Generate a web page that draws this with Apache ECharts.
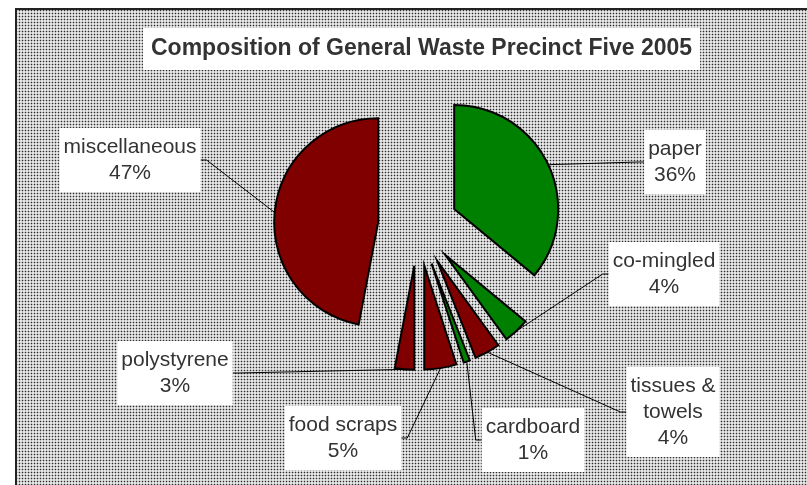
<!DOCTYPE html>
<html>
<head>
<meta charset="utf-8">
<script src="https://cdn.jsdelivr.net/npm/echarts@6/dist/echarts.min.js"></script>
<style>
  html, body { margin: 0; padding: 0; background: #ffffff; }
  #chart { width: 807px; height: 485px; }
</style>
</head>
<body>
<div id="chart"></div>
<script>
// ---- data ----
const categories = ['paper', 'co-mingled', 'tissues & towels', 'cardboard', 'food scraps', 'polystyrene', 'miscellaneous'];
const shares = [36, 4, 4, 1, 5, 3, 47];
const titleText = 'Composition of General Waste Precinct Five 2005';

// ---- styling / layout ----
const sliceColors = ['#008000', '#008000', '#800000', '#008000', '#800000', '#800000', '#800000'];
// centre of each label box, in the same order as the categories
const labelSpots = [[675, 162], [664, 274], [673, 412], [533, 440], [343, 438], [175, 373], [130, 160]];
const pieCenter = [418, 226];
const pieRadius = 104;
const explodeDistance = 40;
const fontFamily = '"Liberation Sans", Arial, sans-serif';

// dotted texture used as the plot background
function makeDotPattern() {
  const c = document.createElement('canvas');
  c.width = 3; c.height = 3;
  const g = c.getContext('2d');
  const px = (x, y, col) => { g.fillStyle = col; g.fillRect(x, y, 1, 1); };
  for (let x = 0; x < 3; x++) for (let y = 0; y < 3; y++) px(x, y, '#e6e6e6');
  px(1, 0, '#b8b8b8'); px(0, 1, '#b8b8b8'); px(2, 1, '#b8b8b8'); px(1, 2, '#b8b8b8');
  px(1, 1, '#2e2e2e');
  return c;
}

const total = shares.reduce((a, b) => a + b, 0);
let running = 0;
const midAngles = shares.map(v => {
  const m = (running + v / 2) / total * Math.PI * 2;
  running += v;
  return m;
});

function labelText(p) {
  return p.name.replace(' & ', ' &\n') + '\n' + Math.round(p.percent) + '%';
}

function placeLabel(params) {
  const spot = labelSpots[params.dataIndex];
  const pts = params.labelLinePoints;
  if (!spot || !pts) return {};
  const start = pts[0];
  const half = params.labelRect.width / 2;
  const side = start[0] > spot[0] ? 1 : -1;
  const edgeX = spot[0] + side * half;
  return {
    x: spot[0],
    y: spot[1],
    align: 'center',
    verticalAlign: 'middle',
    labelLinePoints: [start, [edgeX + side * 6, spot[1]], [edgeX, spot[1]]]
  };
}

// one pie per slice, each shifted out along its own bisector
const series = categories.map((cat, i) => ({
  type: 'pie',
  silent: true,
  animation: false,
  startAngle: 90,
  clockwise: true,
  avoidLabelOverlap: false,
  radius: [0, pieRadius],
  center: [
    pieCenter[0] + explodeDistance * Math.sin(midAngles[i]),
    pieCenter[1] - explodeDistance * Math.cos(midAngles[i])
  ],
  label: {
    position: 'outside',
    formatter: labelText,
    fontFamily: fontFamily,
    fontSize: 21,
    lineHeight: 26,
    color: '#333333',
    backgroundColor: '#ffffff',
    padding: [6, 4],
    align: 'center'
  },
  labelLine: { length: 10, length2: 10, lineStyle: { color: '#000000', width: 1 } },
  labelLayout: placeLabel,
  emphasis: { disabled: true },
  data: categories.map((name, j) => ({
    name: name,
    value: shares[j],
    itemStyle: j === i
      ? { color: sliceColors[j], borderColor: '#000000', borderWidth: 2, borderJoin: 'miter' }
      : { color: 'rgba(0,0,0,0)', borderWidth: 0 },
    label: { show: j === i },
    labelLine: { show: j === i }
  }))
}));

const chart = echarts.init(document.getElementById('chart'), null, { renderer: 'canvas' });
chart.setOption({
  backgroundColor: '#ffffff',
  animation: false,
  title: {
    text: titleText,
    left: 143,
    top: 28,
    backgroundColor: '#ffffff',
    padding: [8, 8],
    textStyle: { fontFamily: fontFamily, fontSize: 23, fontWeight: 'bold', color: '#333333', lineHeight: 26 }
  },
  graphic: [{
    type: 'rect',
    silent: true,
    z: -10,
    shape: { x: 16, y: 9, width: 900, height: 600 },
    style: { fill: { image: makeDotPattern(), repeat: 'repeat' }, stroke: '#222222', lineWidth: 2 }
  }],
  series: series
});
</script>
</body>
</html>
